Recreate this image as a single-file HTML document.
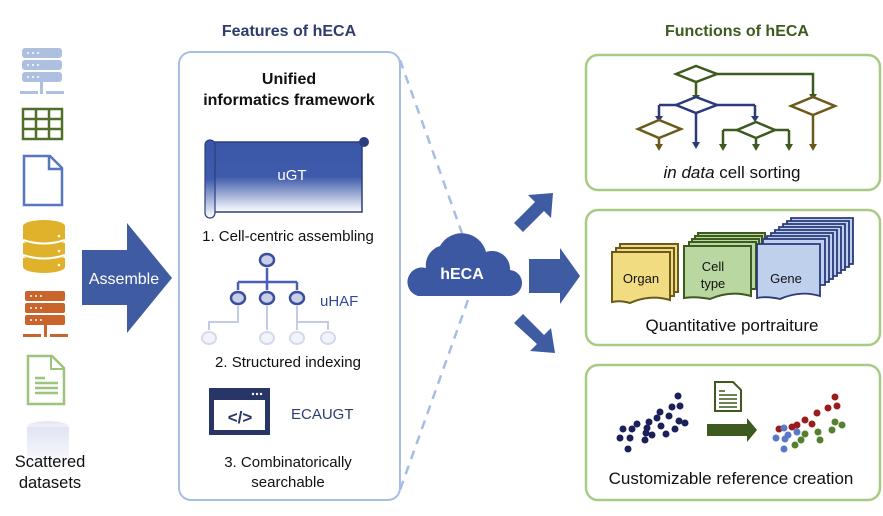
<!DOCTYPE html>
<html><head><meta charset="utf-8"><style>
html,body{margin:0;padding:0;background:#fff;}
svg{display:block;font-family:"Liberation Sans",sans-serif;}
</style></head><body>
<svg width="883" height="516" viewBox="0 0 883 516" xmlns="http://www.w3.org/2000/svg">
<defs>
<linearGradient id="sg" x1="0" y1="0" x2="0" y2="1">
<stop offset="0" stop-color="#3a56a8"/><stop offset="0.5" stop-color="#3f5bab"/><stop offset="1" stop-color="#ffffff"/>
</linearGradient>
<linearGradient id="fade" x1="0" y1="0" x2="0" y2="1">
<stop offset="0" stop-color="#e1e4f2"/><stop offset="1" stop-color="#ffffff"/>
</linearGradient>
</defs>

<!-- titles -->
<text x="289" y="36" text-anchor="middle" font-size="16" font-weight="bold" fill="#2e3d6b">Features of hECA</text>
<text x="737" y="36" text-anchor="middle" font-size="16" font-weight="bold" fill="#3d5a1f">Functions of hECA</text>

<!-- left icons -->
<g fill="#aec0e0">
<rect x="22" y="48" width="40" height="10" rx="3"/><rect x="22" y="60" width="40" height="10" rx="3"/><rect x="22" y="72" width="40" height="10" rx="3"/>
<rect x="40" y="82" width="3" height="9"/><rect x="20" y="91" width="18" height="3"/><rect x="40" y="91" width="3" height="3"/><rect x="46" y="91" width="18" height="3"/>
</g>
<g fill="#fff"><circle cx="28" cy="53" r="1"/><circle cx="33" cy="53" r="1"/><circle cx="38" cy="53" r="1"/><circle cx="28" cy="65" r="1"/><circle cx="33" cy="65" r="1"/><circle cx="38" cy="65" r="1"/><circle cx="28" cy="77" r="1"/><circle cx="33" cy="77" r="1"/><circle cx="38" cy="77" r="1"/></g>
<rect x="23" y="109" width="39" height="30" fill="#fff" stroke="#4f6f2a" stroke-width="2.5"/>
<path d="M23 119H62M23 129H62M36 109V139M49 109V139" stroke="#4f6f2a" stroke-width="2.5"/>
<path d="M24 156H50L62 168V205H24Z" fill="#fff" stroke="#5676c0" stroke-width="2.5"/>
<path d="M49 157V169H61" fill="#fff" stroke="#5676c0" stroke-width="2.5"/>
<g fill="#e0b22c">
<ellipse cx="44" cy="226" rx="21" ry="6"/><rect x="23" y="226" width="42" height="14"/><ellipse cx="44" cy="240" rx="21" ry="6"/>
<rect x="23" y="243" width="42" height="12"/><ellipse cx="44" cy="255" rx="21" ry="6"/>
<rect x="23" y="258" width="42" height="9"/><ellipse cx="44" cy="267" rx="21" ry="6"/>
</g>
<path d="M23 240Q44 247 65 240M23 255Q44 262 65 255" stroke="#fff" stroke-width="2" fill="none"/>
<g fill="#fff"><circle cx="59" cy="236" r="1.3"/><circle cx="59" cy="251" r="1.3"/><circle cx="59" cy="265" r="1.3"/></g>
<g fill="#c9642a">
<rect x="25" y="291" width="40" height="10" rx="2"/><rect x="25" y="303" width="40" height="10" rx="2"/><rect x="25" y="315" width="40" height="10" rx="2"/>
<rect x="44" y="325" width="3" height="9"/><rect x="23" y="334" width="18" height="3"/><rect x="44" y="334" width="3" height="3"/><rect x="50" y="334" width="18" height="3"/>
</g>
<g fill="#fff"><circle cx="31" cy="296" r="1"/><circle cx="36" cy="296" r="1"/><circle cx="41" cy="296" r="1"/><circle cx="31" cy="308" r="1"/><circle cx="36" cy="308" r="1"/><circle cx="41" cy="308" r="1"/><circle cx="31" cy="320" r="1"/><circle cx="36" cy="320" r="1"/><circle cx="41" cy="320" r="1"/></g>
<path d="M28 356H52L64 368V404H28Z" fill="#fff" stroke="#9cc47a" stroke-width="2.5"/>
<path d="M51 357V369H63" fill="none" stroke="#9cc47a" stroke-width="2"/>
<path d="M35 378H45M35 383H58M35 388H58M35 393H58" stroke="#9cc47a" stroke-width="2.5"/>
<g fill="url(#fade)"><ellipse cx="48" cy="427" rx="21" ry="6"/><rect x="27" y="427" width="42" height="45"/></g>
<text x="50" y="467" text-anchor="middle" font-size="16.5" fill="#111">Scattered</text>
<text x="50" y="488" text-anchor="middle" font-size="16.5" fill="#111">datasets</text>

<!-- assemble arrow -->
<path d="M82 250H127V223L172 278L127 333V305H82Z" fill="#3f5ca3"/>
<text x="124" y="284" text-anchor="middle" font-size="16" fill="#fff">Assemble</text>

<!-- left box -->
<rect x="179" y="52" width="221" height="448" rx="12" fill="none" stroke="#a8bfe4" stroke-width="2"/>
<text x="289" y="84" text-anchor="middle" font-size="16" font-weight="bold" fill="#111">Unified</text>
<text x="289" y="105" text-anchor="middle" font-size="16" font-weight="bold" fill="#111">informatics framework</text>

<!-- scroll -->
<path d="M212 142H362V212H212Z" fill="url(#sg)" stroke="#2c3e80" stroke-width="1.5"/>
<rect x="205" y="140" width="10" height="78" rx="5" fill="url(#sg)" stroke="#2c3e80" stroke-width="1.2"/>
<circle cx="364" cy="142" r="5" fill="#2c3e80"/>
<text x="292" y="180" text-anchor="middle" font-size="15" fill="#fff">uGT</text>
<text x="288" y="241" text-anchor="middle" font-size="15" fill="#111">1. Cell-centric assembling</text>

<!-- tree -->
<g stroke="#4a5fb5" stroke-width="2.5" fill="none">
<path d="M267 268V290M238 282H297M238 282V290M297 282V290"/>
</g>
<g stroke="#c4cbe8" stroke-width="2" fill="none">
<path d="M238 306V322H209V330M267 306V330M297 306V322H328V330M297 322V330"/>
</g>
<g fill="#c9cfe6" stroke="#3a4f9e" stroke-width="2.5">
<ellipse cx="267" cy="260" rx="7" ry="6"/><ellipse cx="238" cy="298" rx="7" ry="6"/><ellipse cx="267" cy="298" rx="7" ry="6"/><ellipse cx="297" cy="298" rx="7" ry="6"/>
</g>
<g fill="#f3f4fa" stroke="#d3d8ee" stroke-width="2">
<ellipse cx="209" cy="338" rx="7" ry="6"/><ellipse cx="267" cy="338" rx="7" ry="6"/><ellipse cx="297" cy="338" rx="7" ry="6"/><ellipse cx="328" cy="338" rx="7" ry="6"/>
</g>
<text x="320" y="306" font-size="15" fill="#34498f">uHAF</text>
<text x="288" y="367" text-anchor="middle" font-size="15" fill="#111">2. Structured indexing</text>

<!-- code icon -->
<rect x="209" y="388" width="61" height="47" fill="#283567"/>
<rect x="214" y="400" width="51" height="30" fill="#fff"/>
<g fill="#fff"><circle cx="253" cy="394" r="1.2"/><circle cx="257" cy="394" r="1.2"/><circle cx="261" cy="394" r="1.2"/></g>
<text x="240" y="423" text-anchor="middle" font-size="17" font-weight="bold" fill="#283567">&lt;/&gt;</text>
<text x="291" y="419" font-size="15" fill="#2e3d6b">ECAUGT</text>
<text x="288" y="467" text-anchor="middle" font-size="15" fill="#111">3. Combinatorically</text>
<text x="288" y="487" text-anchor="middle" font-size="15" fill="#111">searchable</text>

<!-- dashed lines -->
<path d="M400 60L468 250M468 300L400 490" stroke="#a6bde6" stroke-width="2.5" stroke-dasharray="9,7" fill="none"/>

<!-- cloud -->
<path d="M418 296H508A13 13 0 0 0 510 270A18 18 0 0 0 486 252A25 25 0 0 0 440 246A20 20 0 0 0 426 268A14 14 0 0 0 418 296Z" fill="#3c58a2"/>
<text x="462" y="279" text-anchor="middle" font-size="16" font-weight="bold" fill="#fff">hECA</text>

<!-- out arrows -->
<path d="M529 259H560V248L580 276L560 304V293H529Z" fill="#3f5ca3"/>
<path d="M514 223L535 202L528 195L553 193L551 218L544 211L523 232Z" fill="#3f5ca3"/>
<path d="M514 323L523 314L544 335L551 328L555 353L530 351L537 344L514 323Z" fill="#3f5ca3"/>

<!-- right boxes -->
<g fill="none" stroke="#a7cc81" stroke-width="2.5">
<rect x="586" y="55" width="294" height="135" rx="12"/>
<rect x="586" y="210" width="294" height="135" rx="12"/>
<rect x="586" y="365" width="294" height="135" rx="12"/>
</g>

<!-- flowchart -->
<g stroke="#3d5a1f" stroke-width="2.5" fill="none">
<path d="M717 74H813V95M696 82V95"/>
<path d="M723 130H789M723 130V145M756 138V145M789 130V145"/>
</g>
<g stroke="#2a3a7a" stroke-width="2.5" fill="none"><path d="M659 105H755M659 105V117M755 105V117M696 113V143"/></g>
<g stroke="#6b5a1b" stroke-width="2.5" fill="none"><path d="M659 138V145M813 115V145"/></g>
<g fill="#3d5a1f"><path d="M692 95H700L696 101Z"/><path d="M809 94H817L813 100Z"/><path d="M719 144H727L723 151Z"/><path d="M752 144H760L756 151Z"/><path d="M785 144H793L789 151Z"/></g>
<g fill="#2a3a7a"><path d="M655 116H663L659 122Z"/><path d="M751 116H759L755 122Z"/><path d="M692 142H700L696 149Z"/></g>
<g fill="#6b5a1b"><path d="M655 144H663L659 151Z"/><path d="M809 144H817L813 151Z"/></g>
<path d="M676 74L696 66L717 74L696 82Z" fill="#fff" stroke="#3d5a1f" stroke-width="2.5"/>
<path d="M676 105L696 97L717 105L696 113Z" fill="#fff" stroke="#2a3a7a" stroke-width="2.5"/>
<path d="M638 129L659 120L681 129L659 138Z" fill="#fff" stroke="#6b5a1b" stroke-width="2.5"/>
<path d="M737 130L756 122L775 130L756 138Z" fill="#fff" stroke="#3d5a1f" stroke-width="2.5"/>
<path d="M791 106L813 97L835 106L813 115Z" fill="#fff" stroke="#6b5a1b" stroke-width="2.5"/>
<text x="732" y="178" text-anchor="middle" font-size="17" fill="#111"><tspan font-style="italic">in data</tspan> cell sorting</text>

<!-- cards -->
<g stroke="#6b5a1b" stroke-width="2" fill="#f1dc82">
<path d="M620 244H678V292H620Z"/><path d="M616 248H674V296H616Z"/>
<path d="M612 252H670V300Q650 294 630 303Q620 300 612 302Z"/>
</g>
<text x="641" y="283" text-anchor="middle" font-size="13" fill="#111">Organ</text>
<g stroke="#3d5a1f" stroke-width="2" fill="#b9d7a0">
<path d="M698 233H765V280H698Z"/><path d="M695 236H762V283H695Z"/><path d="M692 239H759V286H692Z"/><path d="M689 242H756V289H689Z"/>
<path d="M684 246H751V296Q730 290 710 299Q695 296 684 298Z"/>
</g>
<text x="713" y="271" text-anchor="middle" font-size="13" fill="#111">Cell</text>
<text x="713" y="288" text-anchor="middle" font-size="13" fill="#111">type</text>
<g stroke="#2a3a7a" stroke-width="1.8" fill="#bfd0ec">
<path d="M791 218H853V264H791Z"/><path d="M787 221H849V267H787Z"/><path d="M783 224H845V270H783Z"/><path d="M779 227H841V273H779Z"/><path d="M775 230H837V276H775Z"/><path d="M771 233H833V279H771Z"/><path d="M767 236H829V282H767Z"/><path d="M763 239H825V285H763Z"/>
<path d="M757 244H820V296Q800 290 780 299Q767 296 757 298Z"/>
</g>
<text x="786" y="283" text-anchor="middle" font-size="13" fill="#111">Gene</text>
<text x="732" y="331" text-anchor="middle" font-size="17" fill="#111">Quantitative portraiture</text>

<!-- reference creation -->
<g fill="#1b1f5a">
<circle cx="678" cy="396" r="3.5"/><circle cx="672" cy="407" r="3.5"/><circle cx="680" cy="406" r="3.5"/><circle cx="660" cy="412" r="3.5"/><circle cx="669" cy="416" r="3.5"/><circle cx="679" cy="421" r="3.5"/><circle cx="685" cy="423" r="3.5"/><circle cx="657" cy="418" r="3.5"/><circle cx="649" cy="422" r="3.5"/><circle cx="661" cy="426" r="3.5"/><circle cx="675" cy="429" r="3.5"/><circle cx="666" cy="434" r="3.5"/><circle cx="637" cy="424" r="3.5"/><circle cx="646" cy="433" r="3.5"/><circle cx="632" cy="429" r="3.5"/><circle cx="623" cy="429" r="3.5"/><circle cx="647" cy="428" r="3.5"/><circle cx="652" cy="435" r="3.5"/><circle cx="645" cy="440" r="3.5"/><circle cx="620" cy="438" r="3.5"/><circle cx="630" cy="438" r="3.5"/><circle cx="628" cy="449" r="3.5"/>
</g>
<path d="M715 382H733L741 390V411H715Z" fill="#fff" stroke="#3d5a1f" stroke-width="2"/>
<path d="M719 391H725M719 395H737M719 399H737M719 403H737M719 407H737" stroke="#3d5a1f" stroke-width="1.5"/>
<path d="M707 424H747V418L757 430L747 442V436H707Z" fill="#3d5a1f"/>
<g fill="#9a1c1c"><circle cx="835" cy="397" r="3.5"/><circle cx="828" cy="408" r="3.5"/><circle cx="837" cy="406" r="3.5"/><circle cx="817" cy="413" r="3.5"/><circle cx="812" cy="424" r="3.5"/><circle cx="805" cy="420" r="3.5"/><circle cx="797" cy="425" r="3.5"/><circle cx="792" cy="427" r="3.5"/><circle cx="779" cy="429" r="3.5"/></g>
<g fill="#5a78c8"><circle cx="788" cy="435" r="3.5"/><circle cx="797" cy="432" r="3.5"/><circle cx="784" cy="428" r="3.5"/><circle cx="776" cy="438" r="3.5"/><circle cx="785" cy="439" r="3.5"/><circle cx="784" cy="449" r="3.5"/></g>
<g fill="#55802f"><circle cx="835" cy="422" r="3.5"/><circle cx="842" cy="425" r="3.5"/><circle cx="832" cy="430" r="3.5"/><circle cx="818" cy="432" r="3.5"/><circle cx="820" cy="440" r="3.5"/><circle cx="805" cy="434" r="3.5"/><circle cx="801" cy="440" r="3.5"/><circle cx="795" cy="445" r="3.5"/></g>
<text x="731" y="484" text-anchor="middle" font-size="17" fill="#111">Customizable reference creation</text>
</svg>
</body></html>
